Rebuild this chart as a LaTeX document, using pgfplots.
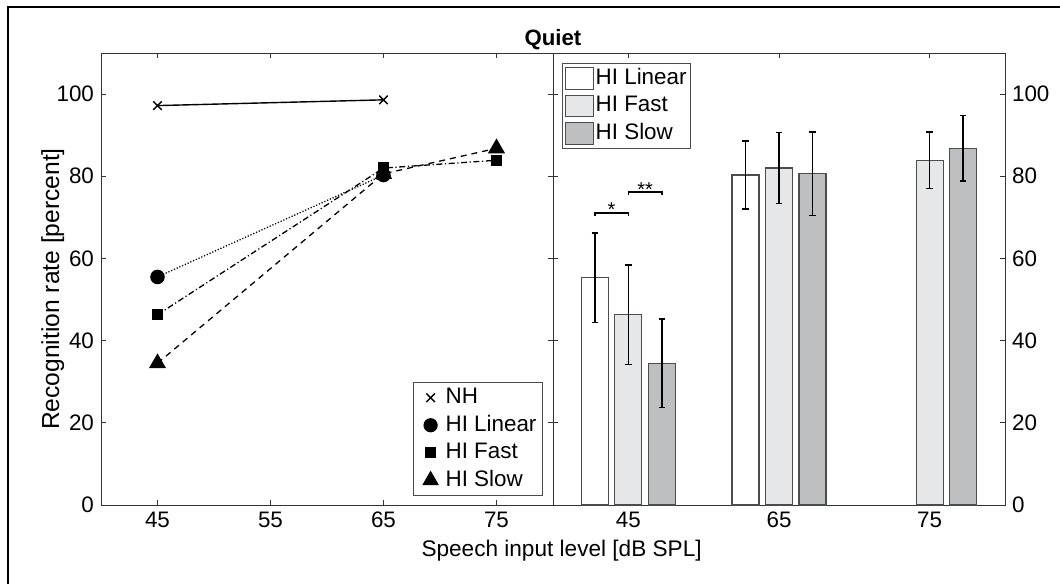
\documentclass[border=0pt]{standalone}
\usepackage{fontspec}
\setmainfont{Liberation Sans}
\usepackage{pgfplots}
\pgfplotsset{compat=1.18}
\definecolor{fastgray}{HTML}{E6E7E8}
\definecolor{slowgray}{HTML}{BEBFC1}
\pgfplotsset{
  myaxis/.style={
    scale only axis, width=226pt, height=226pt,
    axis line style={black!80, line width=0.45pt},
    tick align=inside, major tick length=2.5pt,
    tick style={black!80, line width=0.45pt},
    ymin=0, ymax=110, ytick={0,20,...,100},
    ticklabel style={font=\fontsize{11.2}{13}\selectfont},
    /pgf/number format/assume math mode=true,
    legend cell align=left,
  },
  mybar/.style={forget plot, ybar, bar width=13.5pt, bar shift=0pt, draw=black!70, line width=0.6pt,
    error bars/y dir=both, error bars/y explicit,
    error bars/error bar style={black, line width=0.75pt},
    error bars/error mark options={rotate=90, mark size=1.6pt, line width=0.75pt, black}},
}
\begin{document}
\begin{tikzpicture}
\path[use as bounding box] (0pt,0pt) rectangle (530pt,292pt);
\draw[line width=1pt] (4pt,0pt) -- (4pt,288.5pt) -- (530pt,288.5pt);

% ---------- left: line plot ----------
\begin{axis}[myaxis, at={(50.5pt,39.5pt)}, anchor=south west,
  xmin=40, xmax=80, xtick={45,55,65,75},
  legend style={at={(rel axis cs:1,0)}, anchor=south east, xshift=-5pt, yshift=4.5pt,
    draw=black!70, line width=0.5pt, inner xsep=2pt, inner ysep=0.75pt,
    font=\fontsize{11.2}{13}\selectfont, row sep=0pt,
    nodes={text height=8.5pt, text depth=2.5pt, inner ysep=1.375pt, inner xsep=1pt}},
  legend image code/.code={\draw[draw=none] (0pt,0pt) -- (13pt,0pt); \draw[#1] plot coordinates {(6.5pt,0pt)};},
]
\addlegendimage{mark=x, mark size=3pt, black, line width=0.75pt}
\addlegendentry{NH}
\addlegendimage{mark=*, mark size=3.3pt, black}
\addlegendentry{HI Linear}
\addlegendimage{mark=square*, mark size=2.5pt, black}
\addlegendentry{HI Fast}
\addlegendimage{mark=triangle*, mark size=4.3pt, black}
\addlegendentry{HI Slow}

\addplot[forget plot, black, line width=0.7pt, mark=x, mark size=3pt, mark options={line width=0.75pt}]
  coordinates {(45,97.2) (65,98.6)};
\addplot[forget plot, black, line width=0.65pt, dash pattern=on 0.6pt off 0.9pt,
  mark=*, mark size=3.3pt, mark options={solid}]
  coordinates {(45,55.5) (65,80.3)};
\addplot[forget plot, black, line width=0.65pt, dash pattern=on 3pt off 1.3pt on 0.6pt off 1.3pt,
  mark=square*, mark size=2.5pt, mark options={solid}]
  coordinates {(45,46.3) (65,82.0) (75,83.9)};
\addplot[forget plot, black, line width=0.65pt, dash pattern=on 3pt off 2.5pt,
  mark=triangle*, mark size=4.3pt, mark options={solid}]
  coordinates {(45,34.5) (65,80.6) (75,86.8)};
\end{axis}

% ---------- right: bar chart ----------
\begin{axis}[myaxis, at={(276.5pt,39.5pt)}, anchor=south west,
  xmin=-0.5, xmax=2.5, xtick={0,1,2}, xticklabels={45,65,75},
  yticklabel pos=right,
  legend style={at={(rel axis cs:0,1)}, anchor=north west, xshift=4.5pt, yshift=-5pt,
    draw=black!70, line width=0.5pt, inner xsep=1pt, inner ysep=0.6pt,
    font=\fontsize{11.2}{13}\selectfont, row sep=0pt,
    nodes={text height=8.5pt, text depth=2.5pt, inner ysep=1.375pt, inner xsep=1pt}},
  legend image code/.code={\draw[#1] (0pt,-5.4pt) rectangle (14pt,5.4pt);},
]
\addlegendimage{draw=black!70, line width=0.6pt, fill=white}
\addlegendentry{HI Linear}
\addlegendimage{draw=black!70, line width=0.6pt, fill=fastgray}
\addlegendentry{HI Fast}
\addlegendimage{draw=black!70, line width=0.6pt, fill=slowgray}
\addlegendentry{HI Slow}

% HI Linear (offset -0.2223)
\addplot[fill=white, mybar]
  coordinates {(-0.2223,55.3) +- (0,10.9) (0.7777,80.3) +- (0,8.25)};
% HI Fast (centre)
\addplot[fill=fastgray, mybar]
  coordinates {(0,46.3) +- (0,12.1) (1,82.0) +- (0,8.65) (2,83.9) +- (0,6.85)};
% HI Slow (offset +0.2223)
\addplot[fill=slowgray, mybar]
  coordinates {(0.2223,34.5) +- (0,10.75) (1.2223,80.6) +- (0,10.15) (2.2223,86.8) +- (0,7.95)};

% significance brackets
\draw[black, line width=0.75pt] (axis cs:-0.2223,70.4) -- (axis cs:-0.2223,71.1) -- (axis cs:0,71.1) -- (axis cs:0,70.4);
\draw[black, line width=0.75pt] (axis cs:0,75.5) -- (axis cs:0,76.2) -- (axis cs:0.2223,76.2) -- (axis cs:0.2223,75.5);
\node[font=\fontsize{10}{12}\selectfont, inner sep=0pt, anchor=base] at (axis cs:-0.111,70.2) {*};
\node[font=\fontsize{10}{12}\selectfont, inner sep=0pt, anchor=base] at (axis cs:0.111,75.1) {**};
\end{axis}

% titles and labels
\node[font=\bfseries\fontsize{11.1}{13}\selectfont, anchor=base, inner sep=0pt] at (276.5pt,269pt) {Quiet};
\node[font=\fontsize{11.3}{13}\selectfont, anchor=base, inner sep=0pt] at (280.8pt,14pt) {Speech input level [dB SPL]};
\node[font=\fontsize{12.3}{14}\selectfont, anchor=base, inner sep=0pt, rotate=90] at (29.5pt,147.5pt) {Recognition rate [percent]};
\end{tikzpicture}
\end{document}
